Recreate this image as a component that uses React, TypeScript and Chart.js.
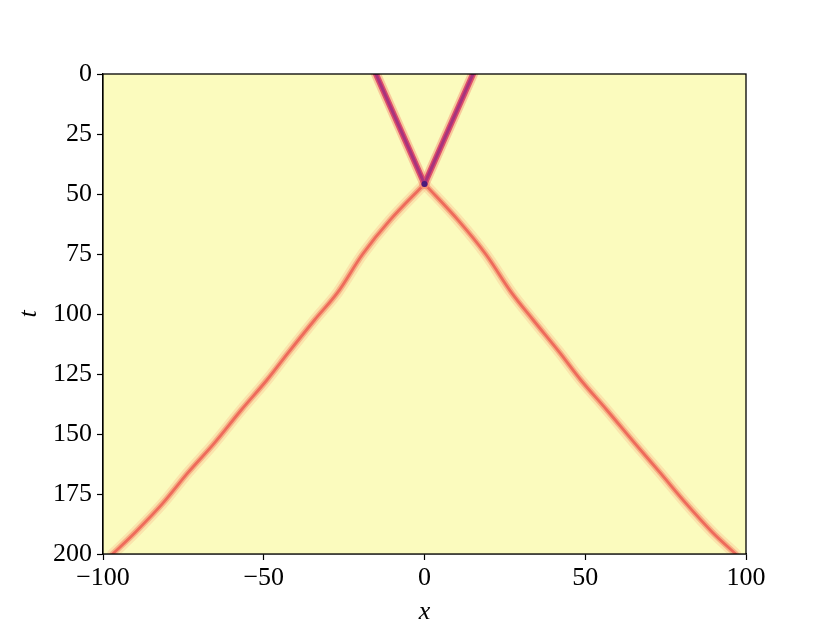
import React, { useEffect, useRef } from "react";
import { Chart, registerables } from "chart.js";

Chart.register(...registerables);

// Trajectories (x position at time t)
const tIncoming = [0, 45.8];
const xIncomingLeft = [-15.1, 0];
const xIncomingRight = [15.1, 0];

const tOutgoing = [45.8, 61, 75, 91, 102.5, 116, 127.5, 140, 154, 166, 179, 191, 200];
const xOutgoingRight = [0, 10.5, 19, 27, 33.8, 42, 48.6, 56.7, 65.5, 73.2, 81.4, 89.6, 96.8];
const xOutgoingLeft = [0, -10.8, -19.2, -27, -34.2, -42.3, -49, -57, -65.5, -73.5, -81.5, -90, -97];

const collisionT = [45.8];
const collisionX = [0];

const xTicks = [-100, -50, 0, 50, 100];
const yTicks = [0, 25, 50, 75, 100, 125, 150, 175, 200];

const pts = (xs: number[], ts: number[]) => xs.map((x, i) => ({ x, y: ts[i] }));

const FONT = "'Liberation Serif', 'DejaVu Serif', serif";

const bgPlugin = {
  id: "areaBg",
  beforeDatasetsDraw(chart: any) {
    const { ctx, chartArea: a } = chart;
    ctx.save();
    ctx.fillStyle = "#fbfbbe";
    ctx.fillRect(a.left, a.top, a.right - a.left, a.bottom - a.top);
    ctx.restore();
  },
  afterDraw(chart: any) {
    const { ctx, chartArea: a } = chart;
    ctx.save();
    ctx.strokeStyle = "#000";
    ctx.lineWidth = 1.3;
    ctx.strokeRect(a.left, a.top, a.right - a.left, a.bottom - a.top);
    ctx.restore();
  },
};

export default function App() {
  const ref = useRef<HTMLCanvasElement>(null);
  useEffect(() => {
    if (!ref.current) return;
    const line = (data: any[], color: string, width: number, order: number) => ({
      type: "line" as const,
      data,
      borderColor: color,
      backgroundColor: color,
      borderWidth: width,
      pointRadius: 0,
      fill: false,
      tension: 0.35,
      clip: 0,
      order,
      borderCapStyle: "round" as const,
      borderJoinStyle: "round" as const,
    });
    const chart = new Chart(ref.current, {
      type: "scatter",
      data: {
        datasets: [
          line(pts(xOutgoingLeft, tOutgoing), "rgba(248,180,135,0.32)", 11, 10),
          line(pts(xOutgoingRight, tOutgoing), "rgba(248,180,135,0.32)", 11, 10),
          line(pts(xOutgoingLeft, tOutgoing), "rgba(244,125,96,0.5)", 6, 9),
          line(pts(xOutgoingRight, tOutgoing), "rgba(244,125,96,0.5)", 6, 9),
          line(pts(xOutgoingLeft, tOutgoing), "rgba(236,95,84,0.85)", 2.8, 8),
          line(pts(xOutgoingRight, tOutgoing), "rgba(236,95,84,0.85)", 2.8, 8),
          line(pts(xIncomingLeft, tIncoming), "rgba(246,150,120,0.5)", 10, 7),
          line(pts(xIncomingRight, tIncoming), "rgba(246,150,120,0.5)", 10, 7),
          line(pts(xIncomingLeft, tIncoming), "#dc4d6c", 6, 6),
          line(pts(xIncomingRight, tIncoming), "#dc4d6c", 6, 6),
          line(pts(xIncomingLeft, tIncoming), "#a8337c", 3, 5),
          line(pts(xIncomingRight, tIncoming), "#a8337c", 3, 5),
          {
            type: "scatter" as const,
            data: pts(collisionX, collisionT),
            pointRadius: 3,
            pointBackgroundColor: "#4a1c7c",
            pointBorderWidth: 0,
            order: 1,
          },
        ],
      },
      options: {
        animation: false,
        responsive: false,
        maintainAspectRatio: false,
        events: [],
        layout: { padding: { top: 74, right: 84, left: 0, bottom: 0 } },
        plugins: { legend: { display: false }, tooltip: { enabled: false } },
        scales: {
          x: {
            type: "linear",
            min: -100,
            max: 100,
            afterFit: (s: any) => { s.height = 69; },
            afterBuildTicks: (s: any) => { s.ticks = xTicks.map((v) => ({ value: v })); },
            ticks: {
              color: "#000",
              font: { family: FONT, size: 26 },
              padding: 3,
              maxRotation: 0,
              callback: (v: any) => String(v).replace("-", "\u2212"),
            },
            grid: { display: true, drawOnChartArea: false, drawTicks: true, tickLength: 6, color: "#000", tickColor: "#000", tickWidth: 1.2 },
            border: { display: true, color: "#000", width: 1.3 },
            title: { display: true, text: "x", color: "#000", font: { family: FONT, size: 26, style: "italic", lineHeight: 0.8 }, padding: { top: 0, bottom: 0 } },
          },
          y: {
            type: "linear",
            min: 0,
            max: 200,
            reverse: true,
            afterFit: (s: any) => { s.width = 103; },
            afterBuildTicks: (s: any) => { s.ticks = yTicks.map((v) => ({ value: v })); },
            ticks: {
              color: "#000",
              font: { family: FONT, size: 26 },
              padding: 5,
            },
            grid: { display: true, drawOnChartArea: false, drawTicks: true, tickLength: 6, color: "#000", tickColor: "#000", tickWidth: 1.2 },
            border: { display: true, color: "#000", width: 1.3 },
            title: { display: true, text: "t", color: "#000", font: { family: FONT, size: 26, style: "italic" }, padding: { top: 14, bottom: 0 } },
          },
        },
      },
      plugins: [bgPlugin],
    });
    return () => chart.destroy();
  }, []);
  return (
    <div style={{ position: "fixed", left: 0, top: 0, width: 830, height: 623, background: "#fff" }}>
      <canvas ref={ref} width={830} height={623} style={{ width: 830, height: 623, display: "block" }} />
    </div>
  );
}
